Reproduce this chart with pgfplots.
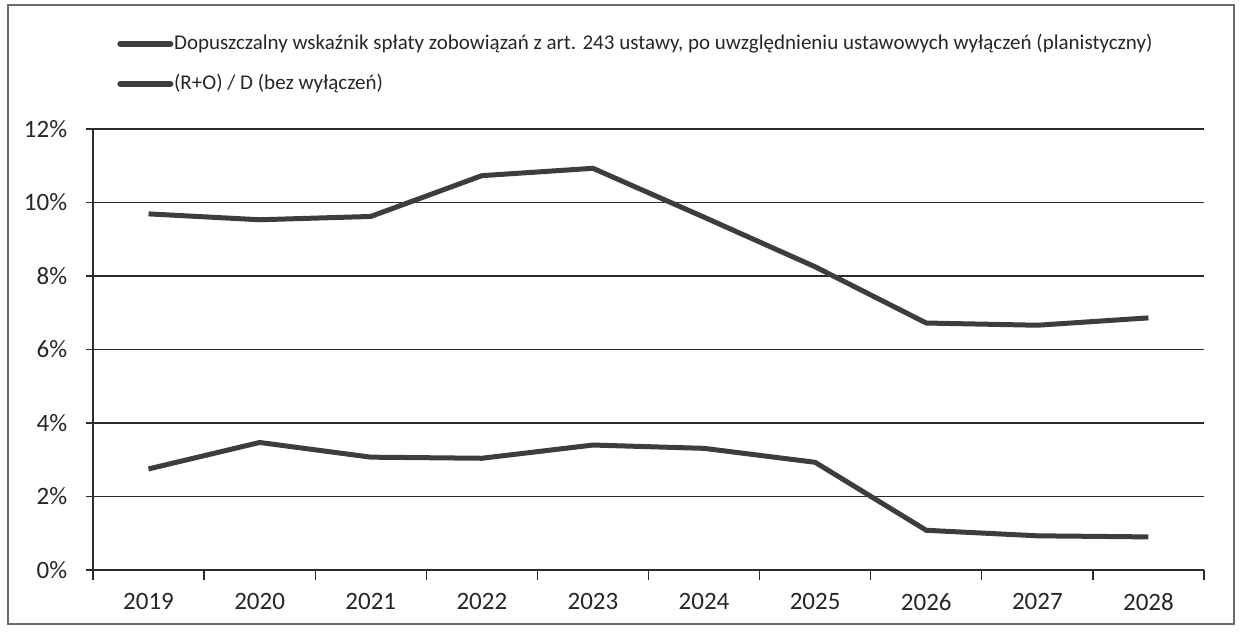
\documentclass[border=0pt]{standalone}
\usepackage{fontspec}
\setmainfont{Carlito}
\usepackage{pgfplots}
\pgfplotsset{compat=1.18}
\definecolor{serie}{HTML}{3D3D3D}
\definecolor{siatka}{HTML}{2A2A2A}
\definecolor{ramka}{HTML}{6A6A6A}
\begin{document}
\begin{tikzpicture}
\useasboundingbox (-37.2pt,-25.2pt) rectangle (458.8pt,228pt);
% chart frame
\draw[ramka, line width=0.6pt] (-34pt,-21.6pt) rectangle (456.4pt,226pt);
\begin{axis}[
  width=444.4pt, height=176.4pt, scale only axis,
  xmin=-0.5, xmax=9.5, ymin=0, ymax=12,
  axis x line*=bottom, axis y line*=left,
  axis line style={siatka, line width=0.5pt},
  xtick={0,...,9},
  xticklabels={2019,2020,2021,2022,2023,2024,2025,2026,2027,2028},
  major x tick style={draw=none},
  minor xtick={-0.5,0.5,...,9.5},
  ytick={0,2,...,12},
  yticklabels={0\%,2\%,4\%,6\%,8\%,10\%,12\%},
  tick align=outside,
  major tick length=2.8pt, minor tick length=4pt,
  tick style={siatka, line width=0.5pt},
  ymajorgrids, grid style={siatka, line width=0.5pt},
  /pgf/number format/assume math mode=true,
  tick label style={font=\fontsize{10}{12}\selectfont, text=black!85},
  xticklabel style={yshift=-3pt},
  yticklabel style={xshift=-4pt},
  legend style={at={(0.0215,1.222)}, anchor=north west, draw=none, fill=none,
    font=\fontsize{8.4}{10}\selectfont, row sep=6.4pt, inner sep=0pt,
    nodes={inner xsep=0.3pt, inner ysep=1pt, text=black!85}},
  legend cell align=left,
  legend image code/.code={\draw[#1, line width=2.4pt, line cap=round] (0.6pt,0pt) -- (20.6pt,0pt);},
]
\addplot[serie, line width=2pt, line join=round] coordinates {
  (0,9.69) (1,9.53) (2,9.62) (3,10.73) (4,10.93)
  (5,9.60) (6,8.25) (7,6.72) (8,6.66) (9,6.86)};
\addlegendentry{Dopuszczalny wskaźnik spłaty zobowiązań z art. 243 ustawy, po uwzględnieniu ustawowych wyłączeń (planistyczny)}
\addplot[serie, line width=2pt, line join=round] coordinates {
  (0,2.75) (1,3.47) (2,3.07) (3,3.04) (4,3.40)
  (5,3.31) (6,2.93) (7,1.08) (8,0.93) (9,0.90)};
\addlegendentry{(R+O) / D (bez wyłączeń)}
\end{axis}
\end{tikzpicture}
\end{document}
